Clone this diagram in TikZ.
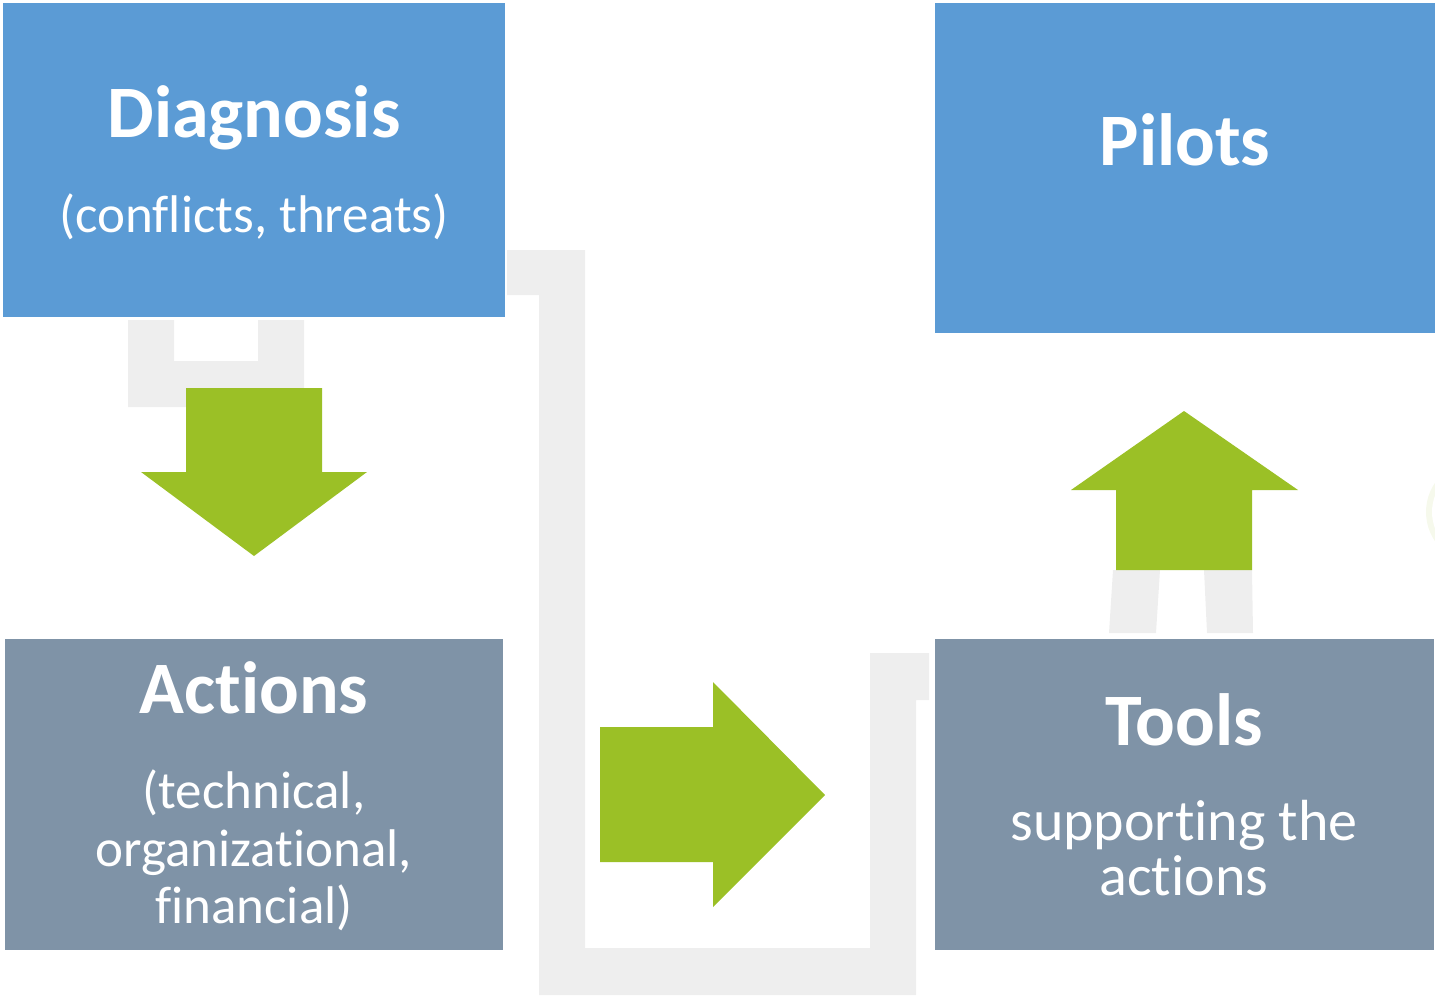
\documentclass[tikz,border=0pt]{standalone}
\usepackage{fontspec}
\setmainfont{Carlito}[RawFeature={-liga;-clig;-calt;-dlig;-hlig}]
\definecolor{boxblue}{HTML}{5B9BD5}
\definecolor{boxslate}{HTML}{7F93A7}
\definecolor{arrowgreen}{HTML}{9BC026}
\definecolor{pipegrey}{HTML}{EEEEEE}
\definecolor{glowgreen}{HTML}{F6F9EC}
\begin{document}
\begin{tikzpicture}[x=0.5pt,y=-0.5pt,
  panel/.style={draw=none,inner sep=0pt,outer sep=0pt},
  pipe/.style={fill=pipegrey,draw=none},
  blockarrow/.style={fill=arrowgreen,draw=none},
  headline/.style={text=white,font=\fontsize{37}{44}\selectfont\bfseries,anchor=base,inner sep=0pt},
  subline/.style={text=white,font=\fontsize{26.5}{29}\selectfont,anchor=base,inner sep=0pt},
  bigsubline/.style={subline,font=\fontsize{29}{32}\selectfont}]
\useasboundingbox (0,0) rectangle (1435,996);

% faint ring at the right edge
\fill[glowgreen] (1478,512) circle (52);
\fill[white] (1478,512) circle (46);

% grey pipework behind the panels
\fill[pipe] (128,320) -- (174,320) -- (174,361) -- (258,361) -- (258,320) -- (304,320)
  -- (304,407) -- (128,407) -- cycle;
\fill[pipe] (507,250) -- (585,250) -- (585,948) -- (870,948) -- (870,653) -- (929,653)
  -- (929,700) -- (916,700) -- (916,995) -- (539,995) -- (539,295) -- (507,295) -- cycle;
\fill[pipe] (1113,570) -- (1160,570) -- (1156,633) -- (1109,633) -- cycle;
\fill[pipe] (1204,570) -- (1252,570) -- (1253,633) -- (1207,633) -- cycle;

% panels
\path[fill=boxblue] (3,3) rectangle (505,317) node[panel] (diag) {};
\path[fill=boxblue] (935,3) rectangle (1435,333) node[panel] (pilots) {};
\path[fill=boxslate] (5,639) rectangle (503,950) node[panel] (actions) {};
\path[fill=boxslate] (935,639) rectangle (1434,950) node[panel] (tools) {};

% block arrows
\fill[blockarrow] (186,388) -- (322,388) -- (322,472) -- (367,472) -- (254,556)
  -- (141,472) -- (186,472) -- cycle;
\fill[blockarrow] (600,727) -- (713,727) -- (713,682) -- (825,795) -- (713,907)
  -- (713,862) -- (600,862) -- cycle;
\fill[blockarrow] (1116,570) -- (1116,490) -- (1071,490) -- (1184,411) -- (1298,490)
  -- (1252,490) -- (1252,570) -- cycle;

% texts
\node[headline] (tdiag) at (254,137) {Diagnosis};
\node[subline] (tdiagsub) at (254,232) {(conflicts, threats)};
\node[headline] (tpilots) at (1185,165) {Pilots};
\node[headline] (tactions) at (254,713) {Actions};
\node[subline] (tact1) at (254,808) {(technical,};
\node[subline] (tact2) at (254,866) {organizational,};
\node[subline] (tact3) at (254,923) {financial)};
\node[headline] (ttools) at (1184,745) {Tools};
\node[bigsubline] (ttool1) at (1184,840) {supporting the};
\node[bigsubline] (ttool2) at (1184,895) {actions};
\end{tikzpicture}
\end{document}
